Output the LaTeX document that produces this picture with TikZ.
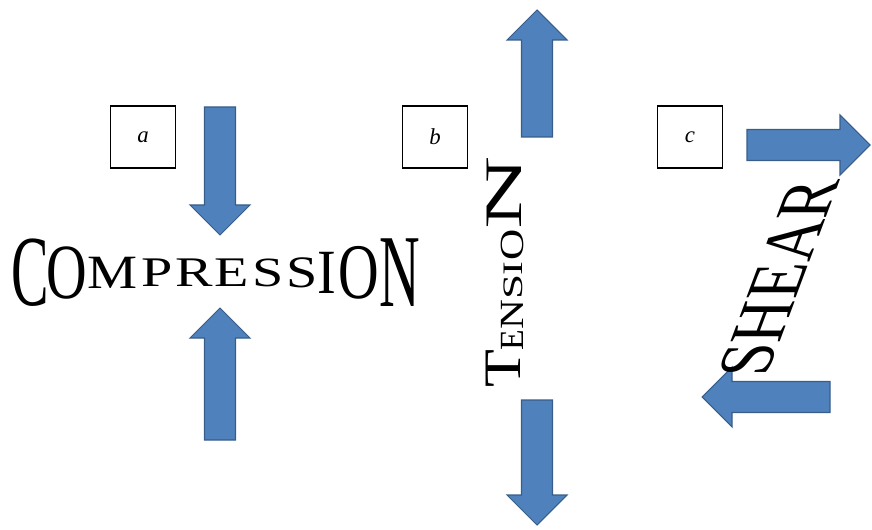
\documentclass[tikz,border=0pt]{standalone}
\usepackage{fontspec}
\setmainfont{Liberation Serif}
\definecolor{forceblue}{RGB}{79,129,189}
\definecolor{forceedge}{RGB}{56,93,138}
\tikzset{
  force/.style={fill=forceblue, draw=forceedge, line width=0.6pt},
  label box/.style={draw, line width=0.6pt, minimum width=1.3cm, minimum height=1.24cm,
    font=\fontsize{13}{13}\selectfont\itshape},
  squeeze letter/.style={inner sep=0pt, font=\fontsize{32}{32}\selectfont},
  tension letter/.style={inner sep=0pt, rotate=90, font=\fontsize{21.4}{21.4}\selectfont},
  shear word/.style={inner sep=0pt, font=\fontsize{42.8}{42.8}\selectfont},
}
% block arrow: tail point, direction, length
\newcommand{\forcearrow}[3]{%
  \draw[force, shift={#1}, rotate=#2]
    (0,-15.5) -- (#3-30,-15.5) -- (#3-30,-30) -- (#3,0)
    -- (#3-30,30) -- (#3-30,15.5) -- (0,15.5) -- cycle;}

\begin{document}
\begin{tikzpicture}[x=0.02cm, y=-0.02cm]
  \useasboundingbox (0,0) rectangle (872,530);

  % Label boxes
  \node[label box] (boxa) at (143,137) {a};
  \node[label box] (boxb) at (435,137) {b};
  \node[label box] (boxc) at (690,137) {c};

  % (a) compression
  \forcearrow{(220,107)}{-90}{128}
  \forcearrow{(220,440)}{90}{132}
  \foreach \ch/\cx/\sy [count=\i] in {C/30/1.79, O/67/1.39, M/112/0.85, P/157/0.75,
      R/194/0.75, E/232/0.75, S/268/0.74, S/302/0.8, I/327/1.12, O/359/1.4, N/400/1.84}
    \node[squeeze letter, yscale=\sy] (comp\i) at (\cx,273) {\ch};

  % (b) tension
  \forcearrow{(537,137)}{90}{127}
  \forcearrow{(537,400)}{-90}{125}
  \foreach \ch/\cx/\cy/\sx/\sy [count=\i] in {T/503/369/1.65/1.4, E/512/340/0.9/0.9,
      N/512/315/1.1/0.9, S/513/287/1.2/0.75, I/513/269/1.1/0.75, O/512/245/1.15/0.9,
      N/504/193/2.7/1.4}
    \node[tension letter, xscale=\sx, yscale=\sy] (ten\i) at (\cx,\cy) {\ch};

  % (c) shear
  \forcearrow{(747,145)}{0}{123}
  \forcearrow{(830,397)}{180}{128}
  \node[shear word, cm={0.30,0.80,-1,0,(0,0)}] (shear) at (779,278) {SHEAR};
\end{tikzpicture}
\end{document}
